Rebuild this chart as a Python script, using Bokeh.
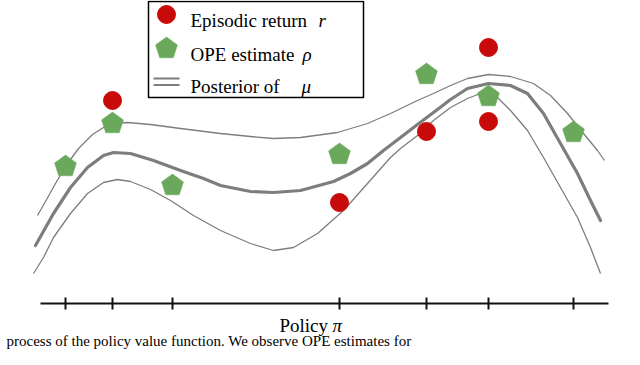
import math
from bokeh.plotting import figure
from bokeh.models import Range1d
from bokeh.core.properties import value
from bokeh.embed import file_html
from bokeh.resources import INLINE

# ---- data (policy position, value) ----
policies = [25, 72, 132, 299, 386, 448, 533]
ope_estimates = [138, 181, 119, 150, 230, 208, 172]

return_policy = [72, 299, 386, 448, 448]
episodic_returns = [203, 101, 172, 256, 182]

mean_x = [-5, 13, 30, 47, 63, 73, 90, 113, 140, 163, 180, 210, 233, 260, 293, 310,
          327, 343, 360, 377, 393, 410, 427, 448, 470, 487, 503, 520, 537, 550, 560]
mean_y = [58, 90, 116, 136, 148, 151, 150, 143, 133, 125, 118, 112, 111, 113, 122, 130,
          140, 153, 166, 179, 191, 204, 215, 220, 218, 210, 190, 160, 130, 103, 83]

upper_x = [-3, 5, 15, 25, 38, 52, 63, 75, 87, 110, 140, 180, 210, 233, 260, 297, 327,
           350, 377, 393, 410, 427, 448, 470, 493, 510, 527, 543, 557, 564]
upper_y = [88, 102, 120, 137, 155, 169, 176, 180, 181, 179, 175, 170, 167, 165, 166, 171,
           180, 190, 203, 210, 218, 225, 229, 227, 220, 208, 190, 170, 153, 143]

lower_x = [-7, 3, 13, 30, 47, 63, 77, 90, 110, 130, 153, 180, 210, 233, 253, 277, 303,
           327, 350, 360, 377, 393, 410, 427, 440, 457, 470, 487, 503, 520, 537, 550, 560]
lower_y = [30, 46, 66, 90, 110, 121, 124, 122, 114, 103, 88, 73, 60, 53, 56, 70, 93,
           120, 146, 155, 168, 183, 196, 205, 210, 206, 193, 173, 146, 116, 86, 56, 30]

axis_start, axis_end = 0, 568
axis_label = "Policy "
axis_label_sym = "π"
legend_labels = ["Episodic return ", "OPE estimate ", "Posterior of "]
legend_syms = ["r", "ρ", "μ"]
caption = "process of the policy value function. We observe OPE estimates for"

RED = "#c80a0a"
GREEN = "#6aa85b"
GRAY = "#7d7d7d"
FONT = value("Liberation Serif")

p = figure(width=624, height=349, x_range=Range1d(-40, 584), y_range=Range1d(-46, 303),
           output_backend="svg", toolbar_location=None, min_border=0,
           x_axis_type=None, y_axis_type=None)
p.outline_line_color = None
p.background_fill_color = "white"
p.border_fill_color = "white"


def pentagon(cx, cy, r=11.5):
    xs, ys = [], []
    for k in range(5):
        a = math.radians(90 + 72 * k)
        xs.append(cx + r * math.cos(a))
        ys.append(cy - 1 + r * math.sin(a))
    return xs, ys


# legend box
p.quad(left=[108], right=[323], top=[302], bottom=[206], fill_color="white",
       line_color="black", line_width=1.5)

# posterior curves
p.line(upper_x, upper_y, line_color=GRAY, line_width=1.3, line_join="round")
p.line(lower_x, lower_y, line_color=GRAY, line_width=1.3, line_join="round")
p.line(mean_x, mean_y, line_color=GRAY, line_width=3.2, line_join="round", line_cap="round")

# OPE estimates (pentagons)
pxs, pys = [], []
for cx, cy in zip(policies, ope_estimates):
    a, b = pentagon(cx, cy)
    pxs.append(a)
    pys.append(b)
p.patches(pxs, pys, fill_color=GREEN, line_color=GREEN, line_width=0.5)

# episodic returns
p.scatter(return_policy, episodic_returns, marker="circle", size=18,
          fill_color=RED, line_color=RED)

# policy axis
p.line([axis_start, axis_end], [0, 0], line_color="#111111", line_width=2)
p.segment(x0=policies, y0=[-6] * len(policies), x1=policies, y1=[6] * len(policies),
          line_color="#111111", line_width=2)
p.text(x=[239], y=[-22], text=[axis_label], text_font=FONT, text_font_size=value("19px"),
       text_baseline="alphabetic", text_align="left", text_color="black")
p.text(x=[292], y=[-22], text=[axis_label_sym], text_font=FONT, text_font_size=value("19px"),
       text_font_style="italic", text_baseline="alphabetic", text_align="left", text_color="black")

# legend contents
p.scatter([126], [289], marker="circle", size=18, fill_color=RED, line_color=RED)
lx, ly = pentagon(126, 256)
p.patch(lx, ly, fill_color=GREEN, line_color=GREEN, line_width=0.5)
p.segment(x0=[113, 113], y0=[225, 218.5], x1=[139, 139], y1=[225, 218.5],
          line_color=GRAY, line_width=2)
p.text(x=[150, 150, 150], y=[283, 249, 217], text=legend_labels, text_font=FONT,
       text_font_size=value("19px"), text_baseline="alphabetic", text_align="left",
       text_color="black")
p.text(x=[278, 262, 261], y=[283, 249, 217], text=legend_syms, text_font=FONT,
       text_font_size=value("19px"), text_font_style="italic", text_baseline="alphabetic",
       text_align="left", text_color="black")

# caption line of the source (kept inside the canvas)
p.text(x=[-34], y=[-37], text=[caption], text_font=FONT, text_font_size=value("15px"),
       text_baseline="alphabetic", text_align="left", text_color="black")

open("out.html", "w").write(file_html(p, INLINE))
